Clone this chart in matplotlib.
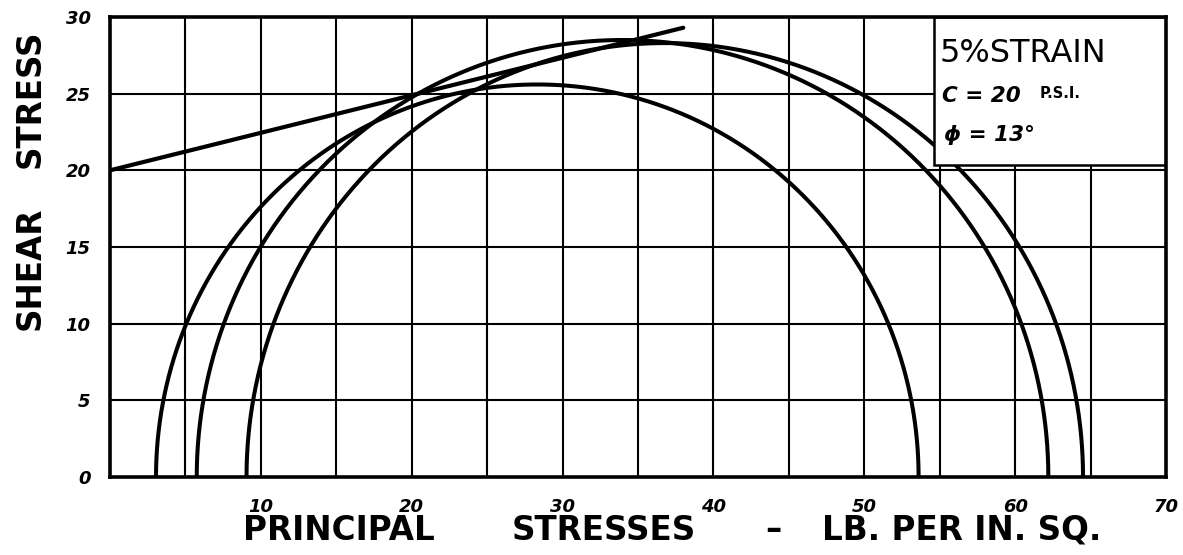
import numpy as np
import matplotlib
matplotlib.use("Agg")
import matplotlib.pyplot as plt
from matplotlib.patches import Rectangle

# ---- data ----
sigma3 = [3.05, 5.75, 9.05]      # minor principal stress (left end of each Mohr circle)
sigma1 = [53.6, 62.2, 64.5]      # major principal stress (right end of each Mohr circle)
tau_top = [25.6, 28.5, 28.3]     # hand-drawn peak height of each circle
env_sigma = [0.0, 38.0]          # failure envelope end points
env_tau = [20.0, 29.3]
x_ticks = [10, 20, 30, 40, 50, 60, 70]
x_ticklabels = ["10", "20", "30", "40", "50", "60", "70"]
y_ticks = [0, 5, 10, 15, 20, 25, 30]
y_ticklabels = ["0", "5", "10", "15", "20", "25", "30"]
note_title = "5%STRAIN"
note_c = "C = 20"
note_c_unit = "P.S.I."
note_phi = "ϕ = 13°"

W, H = 1183, 555
fig = plt.figure(figsize=(W / 100, H / 100), dpi=100)
fig.patch.set_facecolor("white")
L, R, T, B = 110, 1166, 17, 477
ax = fig.add_axes([L / W, 1 - B / H, (R - L) / W, (B - T) / H])
ax.set_xlim(0, 70)
ax.set_ylim(0, 30)

# grid every 5 units
for gx in np.arange(5, 70, 5):
    ax.axvline(gx, color="black", lw=1.5, zorder=1)
for gy in np.arange(5, 30, 5):
    ax.axhline(gy, color="black", lw=1.5, zorder=1)

# Mohr circles (hand-drawn arcs)
t = np.linspace(0, np.pi, 400)
for s3, s1, h in zip(sigma3, sigma1, tau_top):
    c = (s1 + s3) / 2
    r = (s1 - s3) / 2
    ax.plot(c + r * np.cos(t), h * np.sin(t), color="black", lw=2.9,
            solid_capstyle="butt", zorder=3)

# failure envelope
ax.plot(env_sigma, env_tau, color="black", lw=3.0, solid_capstyle="round", zorder=3)

# note box (covers grid)
ax.add_patch(Rectangle((54.6, 20.35), 70 - 54.6, 30 - 20.35, facecolor="white",
                       edgecolor="black", lw=1.8, zorder=5))

for s in ax.spines.values():
    s.set_linewidth(2.6)
    s.set_zorder(6)

ax.set_xticks(x_ticks)
ax.set_xticklabels(x_ticklabels, fontsize=13, fontweight="bold", fontstyle="italic")
ax.set_yticks(y_ticks)
ax.set_yticklabels(y_ticklabels, fontsize=13, fontweight="bold", fontstyle="italic")
ax.tick_params(axis="both", length=0)
ax.tick_params(axis="x", pad=15)
ax.tick_params(axis="y", pad=14)

def px(x, y):
    return x / W, 1 - y / H

# x label pieces
lab_kw = dict(fontsize=23.5, fontweight="bold", va="center", ha="left", family="DejaVu Sans")
fig.text(*px(243, 530), "PRINCIPAL", **lab_kw)
fig.text(*px(512, 530), "STRESSES", **lab_kw)
fig.text(*px(765, 530), "–", **lab_kw)
fig.text(*px(822, 530), "LB. PER IN. SQ.", **lab_kw)

# y label pieces
ylab_kw = dict(fontsize=23.5, fontweight="bold", va="center", ha="center", rotation=90,
               family="DejaVu Sans")
fig.text(*px(30, 99), "STRESS", **ylab_kw)
fig.text(*px(30, 268), "SHEAR", **ylab_kw)

# note text
fig.text(*px(940, 54), note_title, fontsize=23, ha="left", va="center", zorder=7)
fig.text(*px(942, 96), note_c, fontsize=15.5, fontweight="bold", fontstyle="italic",
         ha="left", va="center", zorder=7)
fig.text(*px(1040, 94), note_c_unit, fontsize=10.5, fontweight="bold",
         ha="left", va="center", zorder=7)
fig.text(*px(944, 135), note_phi, fontsize=15.5, fontweight="bold", fontstyle="italic",
         ha="left", va="center", zorder=7)

fig.savefig("out.png", dpi=100, facecolor="white")
